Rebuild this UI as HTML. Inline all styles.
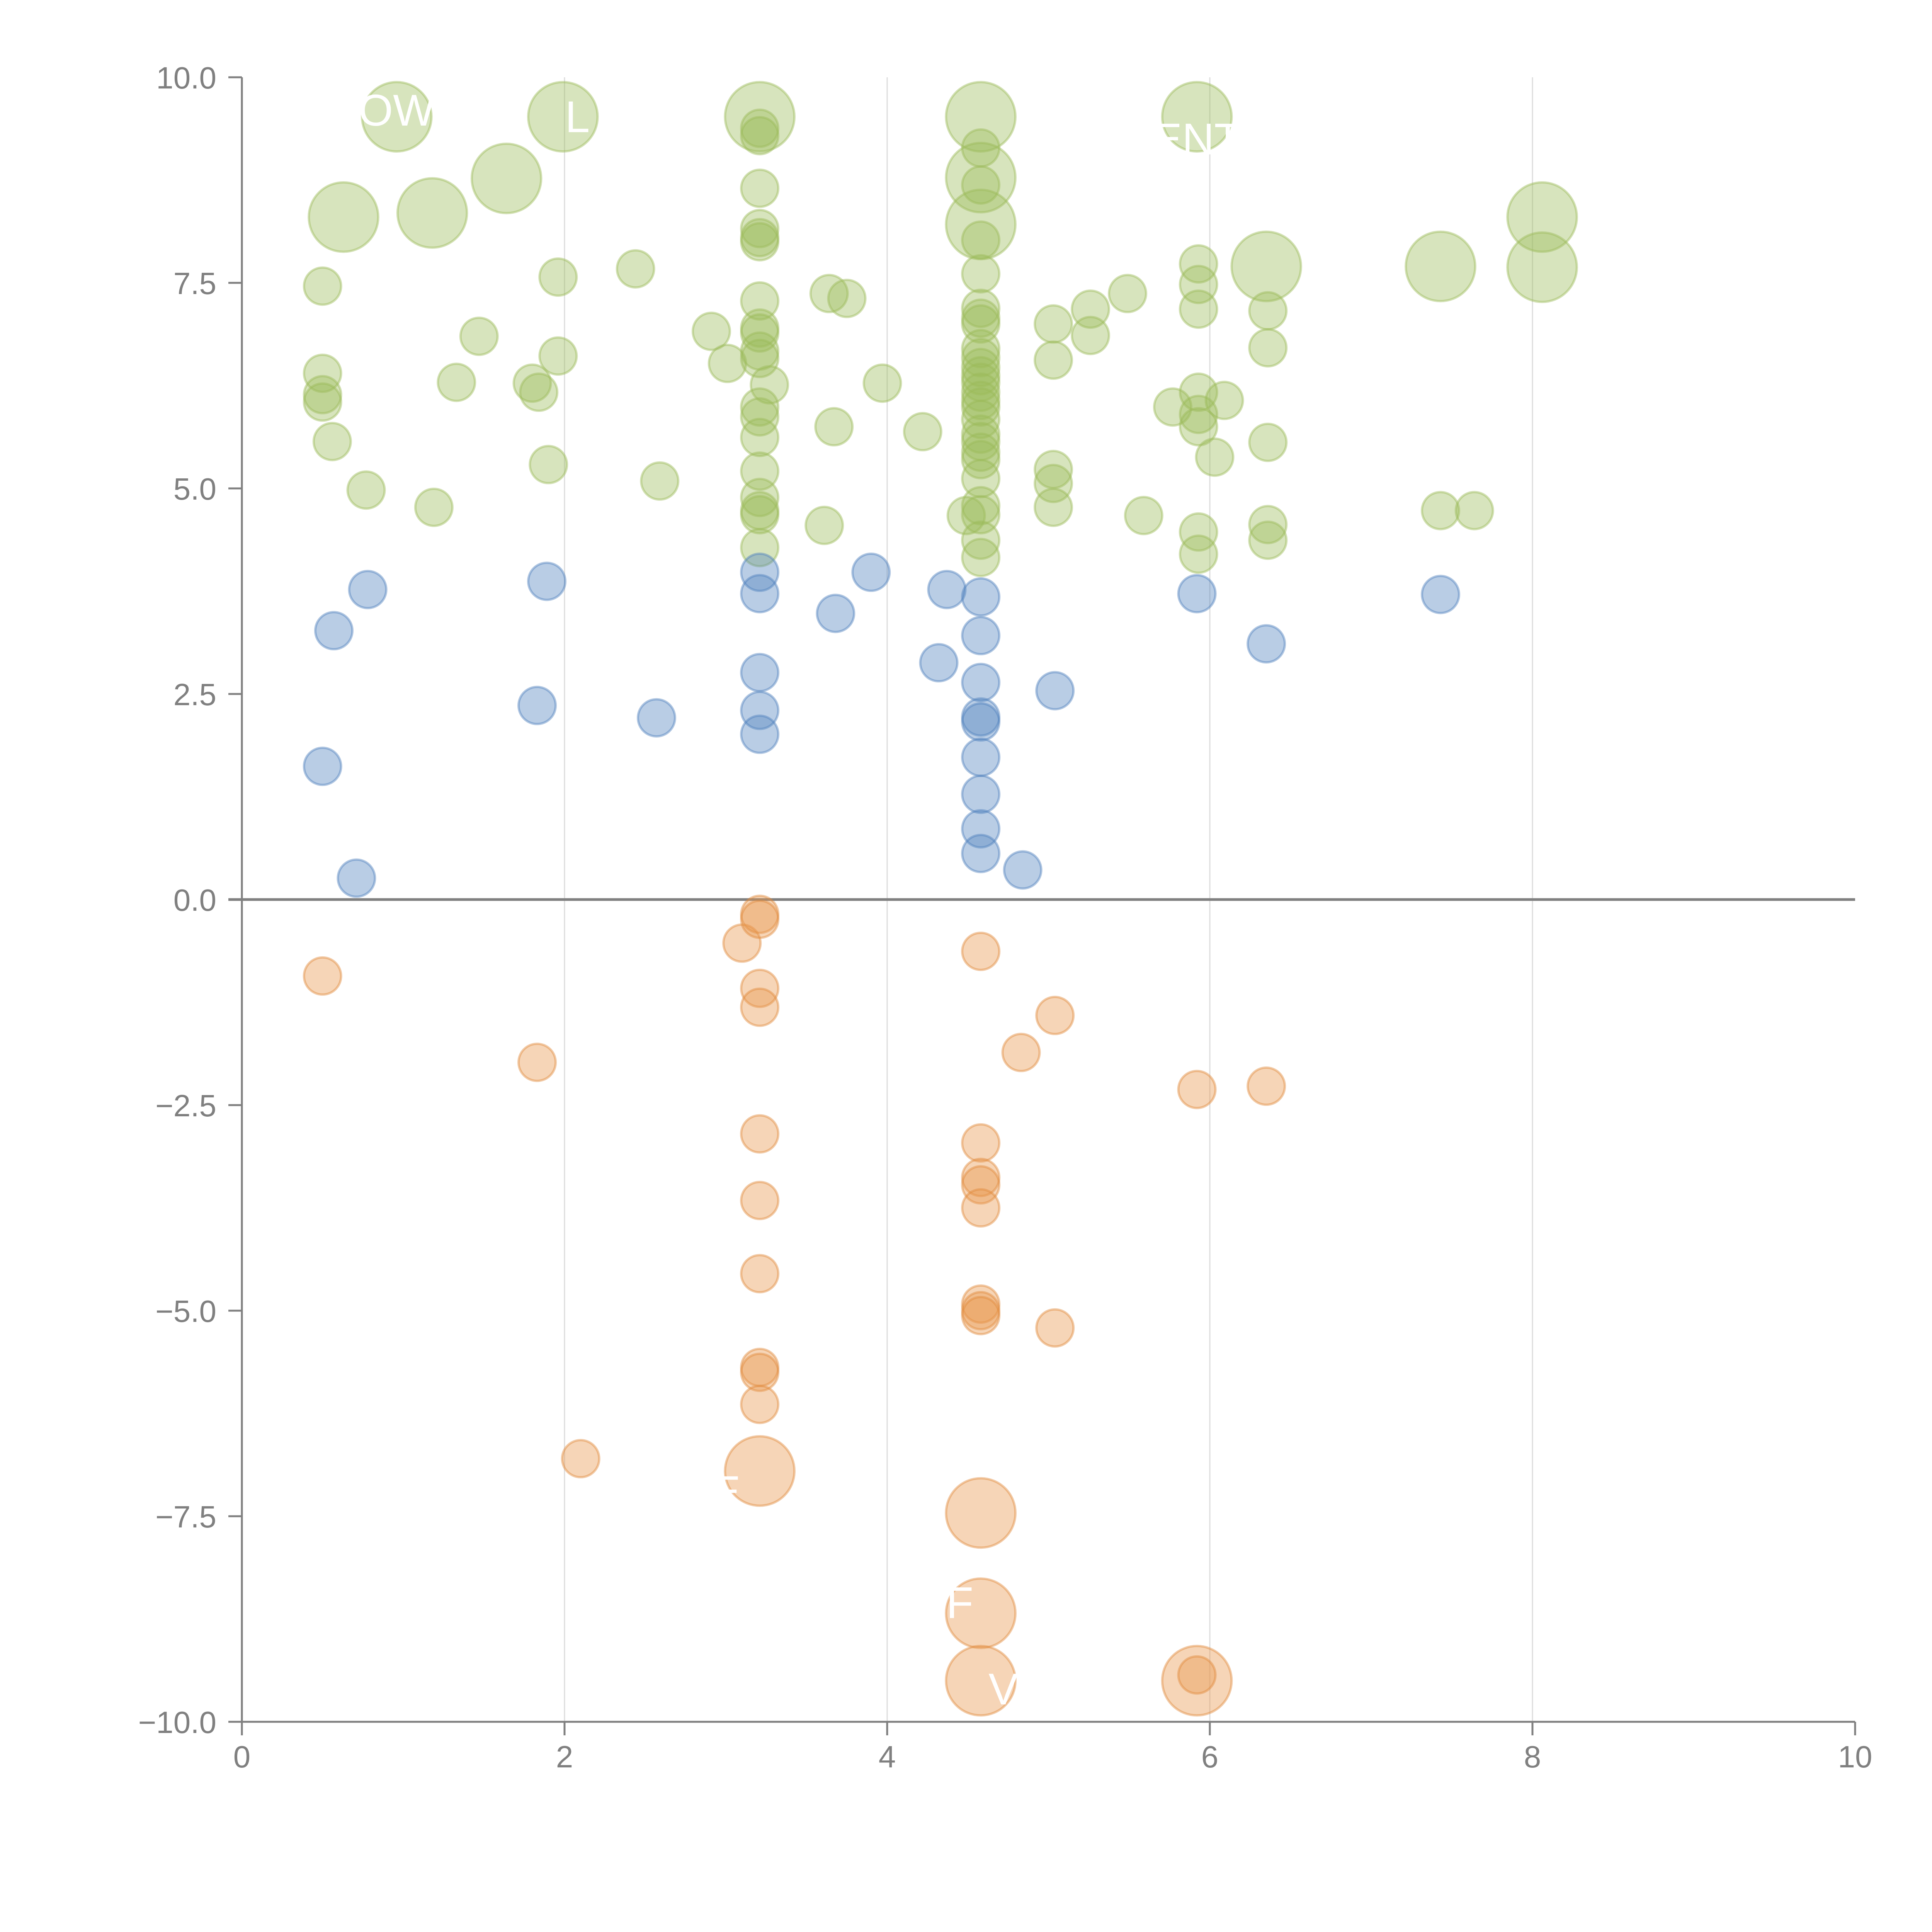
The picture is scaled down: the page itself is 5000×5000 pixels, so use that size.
<!DOCTYPE html>
<html><head><meta charset="utf-8"><style>
html,body{margin:0;padding:0;background:#fff;}
svg{display:block;font-family:"Liberation Sans",sans-serif;}
</style></head><body>
<svg id="chart" width="5000" height="5000" viewBox="0 0 5000 5000" xmlns="http://www.w3.org/2000/svg">
<g id="grid"></g>
<g id="axes"></g>
<g id="marks"></g>
<g id="labels"></g>
</svg>
<script>
const xTicks=[0,2,4,6,8,10];
const yTicks=[10,7.5,5,2.5,0,-2.5,-5,-7.5,-10];
const yTickLabels=["10.0","7.5","5.0","2.5","0.0","\u22122.5","\u22125.0","\u22127.5","\u221210.0"];
const greenX=[0.96,1.99,3.21,4.58,5.92,1.64,0.63,1.18,4.58,4.58,6.35,7.43,8.06,8.06,
0.5,0.5,0.5,0.5,0.56,0.77,1.19,1.33,1.47,1.80,1.84,1.90,1.96,1.96,2.44,2.59,2.91,3.01,
3.21,3.21,3.21,3.21,3.21,3.21,3.21,3.21,3.21,3.21,3.21,3.21,3.21,3.21,3.21,3.21,3.21,3.21,3.21,
3.27,3.61,3.64,3.67,3.75,3.97,4.22,4.49,
4.58,4.58,4.58,4.58,4.58,4.58,4.58,4.58,4.58,4.58,4.58,4.58,4.58,4.58,4.58,4.58,4.58,4.58,4.58,4.58,4.58,4.58,4.58,4.58,4.58,
5.03,5.03,5.03,5.03,5.03,5.26,5.26,5.49,5.59,5.77,
5.93,5.93,5.93,5.93,5.93,5.93,5.93,5.93,6.09,6.03,
6.36,6.36,6.36,6.36,6.36,7.43,7.64];
const greenY=[9.52,9.52,9.52,9.52,9.52,8.77,8.30,8.35,8.78,8.21,7.70,7.70,8.30,7.69,
7.46,6.40,6.14,6.05,5.57,4.98,4.77,6.29,6.85,6.28,6.17,5.29,7.57,6.61,7.67,5.09,6.91,6.52,
9.38,9.29,8.65,8.16,8.05,8.00,7.28,6.95,6.89,6.67,6.58,5.99,5.87,5.62,5.21,4.89,4.73,4.68,4.28,
6.26,4.55,7.37,5.75,7.31,6.28,5.69,4.67,
9.14,8.69,8.02,7.61,7.19,7.07,7.00,6.70,6.59,6.47,6.37,6.29,6.17,6.07,5.99,5.84,5.66,5.57,5.44,5.35,5.12,4.79,4.68,4.37,4.16,
7.00,6.56,5.23,5.06,4.77,7.18,6.86,7.37,4.67,5.99,
7.73,7.48,7.18,6.17,5.90,5.75,4.47,4.20,6.07,5.38,
7.16,6.71,5.56,4.56,4.37,4.73,4.73];
const greenSize=[3.5,3.5,3.5,3.5,3.5,3.5,3.5,3.5,3.5,3.5,3.5,3.5,3.5,3.5];
const blueX=[0.50,0.57,0.71,0.78,1.83,1.89,2.57,3.21,3.21,3.21,3.21,3.21,3.68,3.90,4.32,4.37,
4.58,4.58,4.58,4.58,4.58,4.58,4.58,4.58,4.58,4.84,5.04,5.92,6.35,7.43];
const blueY=[1.62,3.27,0.26,3.77,2.36,3.87,2.21,3.98,3.72,2.76,2.30,2.01,3.48,3.98,2.88,3.77,
3.68,3.21,2.64,2.22,2.16,1.73,1.28,0.86,0.56,0.36,2.54,3.72,3.11,3.71];
const orangeX=[3.21,4.58,4.58,4.58,5.92,0.50,1.83,2.10,3.10,3.21,3.21,3.21,3.21,3.21,3.21,3.21,3.21,3.21,3.21,
4.58,4.58,4.58,4.58,4.58,4.58,4.58,4.58,4.83,5.04,5.04,5.92,5.92,6.35];
const orangeY=[-6.95,-7.46,-8.68,-9.50,-9.50,-0.93,-1.98,-6.80,-0.53,-0.18,-0.24,-1.08,-1.31,-2.85,-3.66,-4.55,-5.69,-5.75,-6.14,
-0.63,-2.96,-3.38,-3.47,-3.75,-4.92,-5.00,-5.06,-1.86,-1.41,-5.21,-2.31,-9.43,-2.27];
const orangeSize=[3.5,3.5,3.5,3.5,3.5];
const labelText=["OW","L","ENT","E","F","V"];
const labelX=[0.96,2.08,5.92,3.0,4.45,4.72];
const labelY=[9.6,9.52,9.25,-7.2,-8.55,-9.6];

const NS="http://www.w3.org/2000/svg";
const X0=626,XS=417.5,Y0=2328,YS=212.8;
function xs(v){return X0+v*XS;}
function ys(v){return Y0-v*YS;}
function rs(s){return 48*Math.sqrt(s);}
function mk(tag,attrs,parent){const e=document.createElementNS(NS,tag);for(const k in attrs)e.setAttribute(k,attrs[k]);parent.appendChild(e);return e;}
const grid=document.getElementById('grid'),axes=document.getElementById('axes'),marks=document.getElementById('marks'),labels=document.getElementById('labels');

xTicks.forEach((t,i)=>{
  if(t>0&&t<10){const g=mk('line',{x1:xs(t),x2:xs(t),y1:ys(10),y2:ys(-10),stroke:'#dcdcdc','stroke-width':3},grid);
  
  }
  const tk=mk('line',{x1:xs(t),x2:xs(t),y1:ys(-10),y2:ys(-10)+35,stroke:'#808080','stroke-width':5},axes);
  
  
  const tx=mk('text',{x:xs(t),y:ys(-10)+118,'text-anchor':'middle','font-size':80,fill:'#808080'},axes);
  tx.textContent=String(t);
  
  
});
yTicks.forEach((t,i)=>{
  const tk=mk('line',{x1:X0-35,x2:X0,y1:ys(t),y2:ys(t),stroke:'#808080','stroke-width':5},axes);
  
  
  const tx=mk('text',{x:X0-66,y:ys(t)+29,'text-anchor':'end','font-size':80,fill:'#808080'},axes);
  tx.textContent=yTickLabels[i];
  
  
});
const ya=mk('line',{x1:X0,x2:X0,y1:ys(10),y2:ys(-10),stroke:'#808080','stroke-width':5},axes);


const xa=mk('line',{x1:X0,x2:xs(10),y1:ys(-10),y2:ys(-10),stroke:'#808080','stroke-width':5},axes);


const zl=mk('line',{x1:X0-35,x2:xs(10),y1:ys(0),y2:ys(0),stroke:'#808080','stroke-width':7},axes);



function series(xsArr,ysArr,sz,fill,stroke,name){
  xsArr.forEach((v,i)=>{
    const s=i<sz.length?sz[i]:1;
    const c=mk('circle',{cx:xs(v),cy:ys(ysArr[i]),r:rs(s),fill:fill,'fill-opacity':0.4,stroke:stroke,'stroke-opacity':0.45,'stroke-width':6},marks);
    
    
  });
}
series(greenX,greenY,greenSize,'#9bbb59','#9bbb59','green-bubble');
series(blueX,blueY,[],'#4f81bd','#4f81bd','blue-bubble');
series(orangeX,orangeY,orangeSize,'#e8964a','#e08a3c','orange-bubble');

labelText.forEach((t,i)=>{
  const tx=mk('text',{x:xs(labelX[i]),y:ys(labelY[i])+40,'text-anchor':'middle','font-size':115,fill:'#ffffff'},labels);
  tx.textContent=t;
  
  
});
</script>
</body></html>
